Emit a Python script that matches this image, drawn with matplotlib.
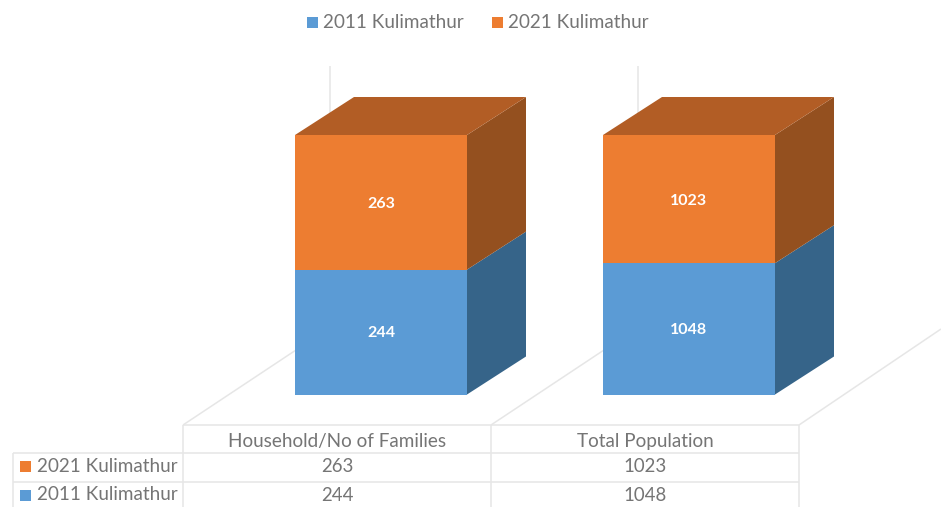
import matplotlib
matplotlib.use("Agg")
import matplotlib.pyplot as plt
from matplotlib.patches import Polygon, Rectangle

categories = ["Household/No of Families", "Total Population"]
series_names = ["2011 Kulimathur", "2021 Kulimathur"]
values_2011 = [244, 1048]
values_2021 = [263, 1023]

blue = "#5b9bd5"
blue_side = "#366489"
orange = "#ed7d31"
orange_top = "#b25d25"
orange_side = "#94501f"
grid = "#e6e6e6"
text_c = "#757575"

plt.rcParams["font.family"] = ["Lato", "DejaVu Sans"]

fig = plt.figure(figsize=(9.41, 5.07), dpi=100)
ax = fig.add_axes([0, 0, 1, 1])
ax.set_xlim(0, 941)
ax.set_ylim(507, 0)
ax.axis("off")

# layout in pixels
bar_left = [295, 603]
bar_w = 172
bar_bottom = 394.5
bar_h = 259.5
dx, dy = 59, -38


def line(x, y):
    ax.plot(x, y, color=grid, lw=1.1, solid_capstyle="butt", zorder=1)


# back walls and floor
for x in bar_left:
    line([x + 35, x + 35], [66, 120])
line([183, 296], [425, 350])
line([491, 604], [425, 350])
line([799, 941], [425, 329])

# table
line([183, 799], [425, 425])
line([13, 799], [453, 453])
line([13, 799], [482, 482])
for x in [183, 491, 799]:
    line([x, x], [425, 507])
line([13, 13], [453, 507])


def block(x, y0, y1, front, side, top=None):
    ax.add_patch(Rectangle((x, y1), bar_w, y0 - y1, fc=front, ec="none", zorder=3))
    r = x + bar_w
    ax.add_patch(Polygon([(r, y0), (r + dx, y0 + dy), (r + dx, y1 + dy), (r, y1)],
                         fc=side, ec="none", zorder=2))
    if top:
        ax.add_patch(Polygon([(x, y1), (x + dx, y1 + dy), (r + dx, y1 + dy), (r, y1)],
                             fc=top, ec="none", zorder=2))


for i, x in enumerate(bar_left):
    total = values_2011[i] + values_2021[i]
    y_mid = bar_bottom - bar_h * values_2011[i] / total
    y_top = bar_bottom - bar_h
    block(x, bar_bottom, y_mid, blue, blue_side)
    block(x, y_mid, y_top, orange, orange_side, orange_top)
    cx = x + bar_w / 2
    ax.text(cx, (bar_bottom + y_mid) / 2 + 1, str(values_2011[i]), color="white", fontsize=11.5,
            fontweight="bold", ha="center", va="center", zorder=4)
    ax.text(cx, (y_mid + y_top) / 2 + 1.5, str(values_2021[i]), color="white", fontsize=11.5,
            fontweight="bold", ha="center", va="center", zorder=4)

    # table text
    cell_x = 337 if i == 0 else 645
    ax.text(cell_x, 441.5, categories[i], color=text_c, fontsize=13.6, ha="center", va="center")
    ax.text(cell_x, 466.5, str(values_2021[i]), color=text_c, fontsize=13.4, ha="center", va="center")
    ax.text(cell_x, 495.5, str(values_2011[i]), color=text_c, fontsize=13.4, ha="center", va="center")

# row labels
ax.add_patch(Rectangle((20, 461), 11, 11, fc=orange, ec="none"))
ax.add_patch(Rectangle((20, 490), 11, 11, fc=blue, ec="none"))
ax.text(37, 466, series_names[1], color=text_c, fontsize=13.6, va="center")
ax.text(37, 495, series_names[0], color=text_c, fontsize=13.6, va="center")

# legend
ax.add_patch(Rectangle((307, 17), 11, 11, fc=blue, ec="none"))
ax.add_patch(Rectangle((492, 17), 11, 11, fc=orange, ec="none"))
ax.text(323, 22.5, series_names[0], color=text_c, fontsize=13.6, va="center")
ax.text(508, 22.5, series_names[1], color=text_c, fontsize=13.6, va="center")

fig.savefig("out.png", dpi=100)
